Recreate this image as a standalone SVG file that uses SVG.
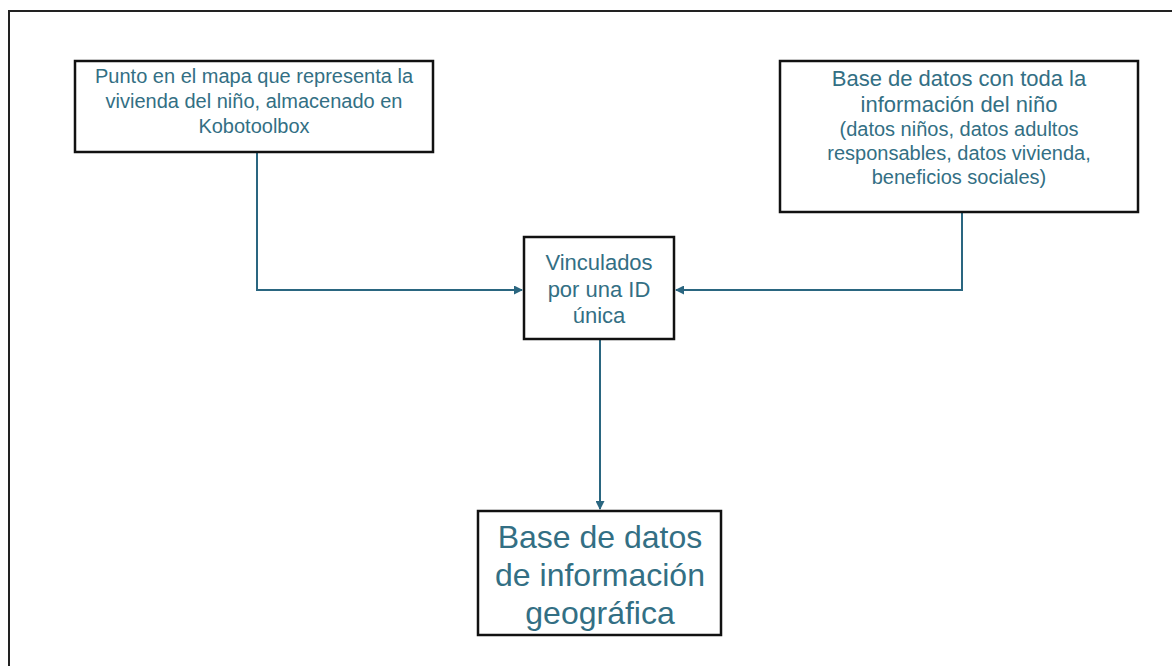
<svg xmlns="http://www.w3.org/2000/svg" width="1172" height="666" viewBox="0 0 1172 666">
<defs>
<style>
.box{fill:#fff;stroke:#111;stroke-width:2.5}
.t{font-family:"Liberation Sans",Arial,sans-serif;fill:#336f84;text-anchor:middle}
.c{fill:none;stroke:#2a6680;stroke-width:2}
</style>
<marker id="ah" markerWidth="9" markerHeight="9" refX="8" refY="4.5" orient="auto" markerUnits="userSpaceOnUse">
<path d="M0,0 L9,4.5 L0,9 Z" fill="#2a6680"/>
</marker>
</defs>
<rect width="1172" height="666" fill="#fff"/>
<path d="M9,670 V11 H1175" fill="none" stroke="#222" stroke-width="2"/>
<g id="connectors">
<path class="c" d="M257,152 V290 H522" marker-end="url(#ah)"/>
<path class="c" d="M962,212 V290 H676" marker-end="url(#ah)"/>
<path class="c" d="M600,339 V509" marker-end="url(#ah)"/>
</g>
<g id="n1">
<rect class="box" x="75" y="61" width="358" height="91"/>
<text class="t" font-size="20"><tspan x="254" y="83">Punto en el mapa que representa la</tspan><tspan x="254" y="108">vivienda del niño, almacenado en</tspan><tspan x="254" y="133">Kobotoolbox</tspan></text>
</g>
<g id="n2">
<rect class="box" x="780" y="61" width="358" height="151"/>
<text class="t" font-size="22"><tspan x="959" y="86">Base de datos con toda la</tspan><tspan x="959" y="112">información del niño</tspan></text>
<text class="t" font-size="20"><tspan x="959" y="136">(datos niños, datos adultos</tspan><tspan x="959" y="160">responsables, datos vivienda,</tspan><tspan x="959" y="184">beneficios sociales)</tspan></text>
</g>
<g id="n3">
<rect class="box" x="524" y="237" width="150" height="102"/>
<text class="t" font-size="22"><tspan x="599" y="270">Vinculados</tspan><tspan x="599" y="297">por una ID</tspan><tspan x="599" y="323">única</tspan></text>
</g>
<g id="n4">
<rect class="box" x="478" y="511" width="243" height="124"/>
<text class="t" font-size="32"><tspan x="600" y="548">Base de datos</tspan><tspan x="600" y="586">de información</tspan><tspan x="600" y="624">geográfica</tspan></text>
</g>
</svg>
